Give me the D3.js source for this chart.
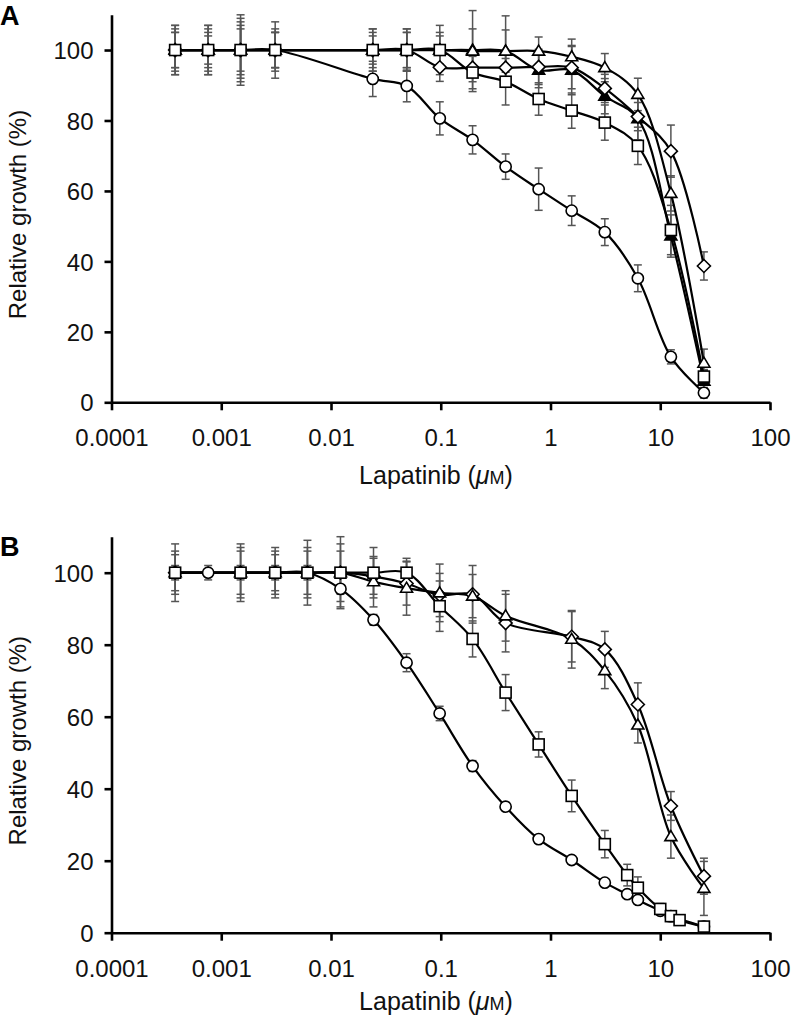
<!DOCTYPE html>
<html>
<head>
<meta charset="utf-8">
<script src="https://cdn.jsdelivr.net/npm/d3@7"></script>
<style>
  html, body { margin: 0; padding: 0; background: #fff; }
  svg { display: block; font-family: "Liberation Sans", Arial, Helvetica, sans-serif; }
</style>
</head>
<body>
<svg id="chart" width="792" height="1021"></svg>
<script>
// ---------- tick labels ----------
const xTickValues = [0.0001, 0.001, 0.01, 0.1, 1, 10, 100];
const xTickLabels = ["0.0001", "0.001", "0.01", "0.1", "1", "10", "100"];
const yTickValues = [0, 20, 40, 60, 80, 100];
const yTickLabels = ["0", "20", "40", "60", "80", "100"];

// ---------- Panel A data ----------
const aConc = [0.00038, 0.00076, 0.0015, 0.0031, 0.024, 0.049, 0.098, 0.195, 0.39, 0.78, 1.56, 3.125, 6.25, 12.5, 25];
const aCircle      = [100, 100, 100, 100, 91.8, 89.8, 80.6, 74.5, 66.9, 60.5, 54.4, 48.3, 35.2, 12.9, 2.7];
const aCircleErr   = [7, 6, 8, 6, 5, 4.5, 4.7, 4, 3.6, 6, 4.2, 3.8, 3.8, 2, 1.5];
const aSquare      = [100, 100, 100, 100, 100, 100, 100, 93.6, 91, 86.1, 82.8, 79.4, 72.8, 48.9, 7.3];
const aSquareErr   = [5, 4, 6, 5, 4, 5, 4, 4.6, 6.6, 4.6, 5, 5, 5.3, 7, 2];
const aDiamond     = [100, 100, 100, 100, 100, 100, 95.1, 95, 95, 95.2, 95, 89.1, 81.1, 71.3, 38.7];
const aDiamondErr  = [6, 7, 9, 5, 5, 6, 4, 4, 5, 5, 6, 4, 4, 7.4, 4];
const aTriangle    = [100, 100, 100, 100, 100, 100, 100, 99.7, 99.7, 99.7, 98.1, 95, 87.4, 59.3, 11.1];
const aTriangleErr = [7, 7, 10, 8, 6, 6, 7, 11.5, 10, 4, 5, 4, 4.6, 5, 4];
const aFilled      = [100, 100, 100, 100, 100, 100, 100, 100, 99.7, 94.3, 94.3, 86.9, 80.5, 47.2, 6];
const aFilledErr   = [5, 5, 7, 5, 6, 5, 5, 6, 6, 5, 7, 5, 6, 6, 3];

// ---------- Panel B data ----------
const bCircleConc  = [0.00038, 0.00076, 0.0015, 0.0031, 0.0061, 0.0122, 0.0244, 0.0488, 0.0977, 0.195, 0.39, 0.78, 1.56, 3.125, 5, 6.25, 10, 12.5, 25];
const bCircle      = [100, 100, 100, 100, 100, 95.5, 86.9, 75, 60.9, 46.3, 35, 26, 20.2, 13.9, 10.7, 9.1, 6.1, 4.6, 1.7];
const bCircleErr   = [2, 2, 2, 2, 2, 5, 1.5, 2.5, 2, 1.5, 1, 1, 1, 1, 1, 1, 1, 1, 1];
const bSquareConc  = [0.00038, 0.0015, 0.0031, 0.0061, 0.0122, 0.0244, 0.0488, 0.0977, 0.195, 0.39, 0.78, 1.56, 3.125, 5, 6.25, 10, 12.5, 15, 25];
const bSquare      = [100, 100, 100, 100, 100, 100, 100, 90.7, 81.6, 66.7, 52.3, 38, 24.6, 16, 12.5, 6.6, 4.6, 3.5, 1.7];
const bSquareErr   = [8, 8, 7, 9, 10, 7, 4, 7, 5, 5, 3.5, 4.4, 3.8, 3, 3, 1.5, 1.5, 1, 1];
const bConc        = [0.00038, 0.0015, 0.0031, 0.0061, 0.0122, 0.0244, 0.0488, 0.0977, 0.195, 0.39, 1.56, 3.125, 6.25, 12.5, 25];
const bDiamond     = [100, 100, 100, 100, 100, 99, 97, 93.8, 94, 86, 82.2, 78.7, 63.4, 35.2, 15.7];
const bDiamondErr  = [6, 6, 5, 7, 6, 5, 6, 6, 8, 8, 7, 5, 6, 4, 5];
const bTriangle    = [100, 100, 100, 100, 100, 97.5, 95.7, 94.4, 93.5, 88, 81.5, 72.8, 57.7, 26.7, 12.3];
const bTriangleErr = [5, 7, 6, 6, 8, 7, 7.5, 8, 6, 7, 8, 5, 5, 6, 7.5];

const svg = d3.select("#chart");

function makeSeries(conc, vals, errs, shape) {
  return { shape, pts: conc.map((c, i) => ({ x: c, y: vals[i], e: errs[i] })) };
}

const panels = [
  {
    label: "A", labelY: 25, top: 14.8, bottom: 402.3, titleOff: 82,
    series: [
      makeSeries(aConc, aCircle, aCircleErr, "circle"),
      makeSeries(aConc, aFilled, aFilledErr, "filled"),
      makeSeries(aConc, aTriangle, aTriangleErr, "triangle"),
      makeSeries(aConc, aDiamond, aDiamondErr, "diamond"),
      makeSeries(aConc, aSquare, aSquareErr, "square")
    ]
  },
  {
    label: "B", labelY: 556, top: 536.7, bottom: 932.7, titleOff: 77,
    series: [
      makeSeries(bCircleConc, bCircle, bCircleErr, "circle"),
      makeSeries(bConc, bDiamond, bDiamondErr, "diamond"),
      makeSeries(bConc, bTriangle, bTriangleErr, "triangle"),
      makeSeries(bSquareConc, bSquare, bSquareErr, "square")
    ]
  }
];

const left = 111.5, right = 770;

function drawMarker(g, shape, px, py) {
  const s = 1.6;
  if (shape === "circle") {
    g.append("circle").attr("cx", px).attr("cy", py).attr("r", 5.6)
      .attr("fill", "#fff").attr("stroke", "#000").attr("stroke-width", s);
  } else if (shape === "square") {
    g.append("rect").attr("x", px - 5.5).attr("y", py - 5.5).attr("width", 11).attr("height", 11)
      .attr("fill", "#fff").attr("stroke", "#000").attr("stroke-width", s);
  } else if (shape === "diamond") {
    const r = 6.5;
    g.append("path").attr("d", `M${px},${py - r}L${px + r},${py}L${px},${py + r}L${px - r},${py}Z`)
      .attr("fill", "#fff").attr("stroke", "#000").attr("stroke-width", s);
  } else {
    const h = 10, w = 6;
    g.append("path").attr("d", `M${px},${py - h * 0.6}L${px + w},${py + h * 0.4}L${px - w},${py + h * 0.4}Z`)
      .attr("fill", shape === "filled" ? "#000" : "#fff").attr("stroke", "#000").attr("stroke-width", s);
  }
}

panels.forEach(p => {
  const x = d3.scaleLog().domain([0.0001, 100]).range([left, right]);
  const y = d3.scaleLinear().domain([0, 110]).range([p.bottom, p.top]);
  const g = svg.append("g");

  // panel letter
  g.append("text").attr("x", 0).attr("y", p.labelY).attr("font-size", 27).attr("font-weight", "bold")
    .text(p.label);

  // error bars
  const eg = g.append("g").attr("stroke", "#555").attr("stroke-width", 1.5);
  p.series.forEach(s => {
    s.pts.forEach(d => {
      const px = x(d.x), y1 = y(d.y + d.e), y2 = y(d.y - d.e);
      eg.append("line").attr("x1", px).attr("x2", px).attr("y1", y1).attr("y2", y2);
      eg.append("line").attr("x1", px - 4).attr("x2", px + 4).attr("y1", y1).attr("y2", y1);
      eg.append("line").attr("x1", px - 4).attr("x2", px + 4).attr("y1", y2).attr("y2", y2);
    });
  });

  // lines
  const line = d3.line().x(d => x(d.x)).y(d => y(d.y)).curve(d3.curveCatmullRom.alpha(0.5));
  p.series.forEach(s => {
    g.append("path").attr("d", line(s.pts)).attr("fill", "none").attr("stroke", "#000").attr("stroke-width", 2.2);
  });

  // markers
  p.series.forEach(s => {
    s.pts.forEach(d => drawMarker(g, s.shape, x(d.x), y(d.y)));
  });

  // axes
  const xAxis = d3.axisBottom(x).tickValues(xTickValues).tickFormat((d, i) => xTickLabels[i])
    .tickSize(8).tickSizeOuter(0).tickPadding(19);
  const yAxis = d3.axisLeft(y).tickValues(yTickValues).tickFormat((d, i) => yTickLabels[i])
    .tickSize(7).tickSizeOuter(0).tickPadding(11);

  const gx = g.append("g").attr("transform", `translate(0,${p.bottom})`).call(xAxis);
  const gy = g.append("g").attr("transform", `translate(${left},0)`).call(yAxis);
  [gx, gy].forEach(a => {
    a.select(".domain").attr("stroke", "#000").attr("stroke-width", 2.6);
    a.selectAll(".tick line").attr("stroke", "#000").attr("stroke-width", 2.6);
    a.selectAll(".tick text").attr("font-size", 24).attr("fill", "#111")
      .attr("font-family", "'Liberation Sans', Arial, sans-serif");
  });
  gy.selectAll(".tick text").attr("dy", "0.36em");

  // x title
  const xt = g.append("text").attr("x", 436).attr("y", p.bottom + p.titleOff).attr("text-anchor", "middle")
    .attr("font-size", 25).attr("fill", "#111");
  xt.append("tspan").text("Lapatinib (");
  xt.append("tspan").attr("font-style", "italic").text("μ");
  xt.append("tspan").attr("font-size", 18).text("M");
  xt.append("tspan").text(")");

  // y title
  g.append("text").attr("transform", `translate(26,${(p.top + p.bottom) / 2 + 6}) rotate(-90)`)
    .attr("text-anchor", "middle").attr("font-size", 24).attr("fill", "#111")
    .text("Relative growth (%)");
});
</script>
</body>
</html>
